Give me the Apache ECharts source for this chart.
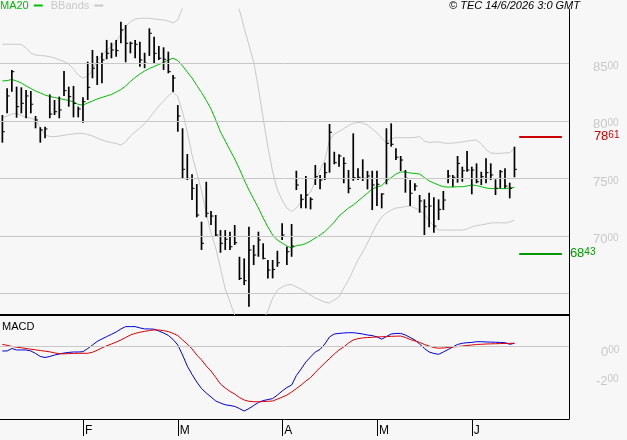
<!DOCTYPE html>
<html>
<head>
<meta charset="utf-8">
<script src="https://cdn.jsdelivr.net/npm/echarts@6/dist/echarts.min.js"></script>
<style>
  html, body { margin: 0; padding: 0; background: #f7f7f7; }
  #chart { width: 627px; height: 440px; }
</style>
</head>
<body>
<div id="chart"></div>
<script>
// Daily bars (high / low / close)
const highs = [
  8050, 8283, 8442, 8297, 8291, 8268, 8259, 8042, 7944, 7949,
  8230, 8181, 8210, 8433, 8297, 8303, 8123, 8204, 8514, 8616,
  8564, 8592, 8703, 8679, 8703, 8862, 8833, 8688, 8703, 8688,
  8592, 8804, 8731, 8650, 8639, 8601, 8398, 8137, 7935, 7711,
  7535, 7450, 7123, 7470, 7216, 7181, 7050, 7050, 7036, 7094,
  6818, 6804, 7079, 6920, 7036, 6935, 6790, 6790, 6870, 7109,
  6905, 7103, 7566, 7361, 7520, 7335, 7616, 7529, 7636, 7972,
  7731, 7709, 7683, 7572, 7891, 7587, 7665, 7564, 7566, 7566,
  7370, 7935, 7978, 7761, 7694, 7572, 7485, 7457, 7355, 7317,
  7375, 7335, 7317, 7390, 7572, 7529, 7694, 7601, 7737, 7601,
  7630, 7557, 7674, 7630, 7491, 7572, 7587, 7462, 7775
];
const lows = [
  7810, 8065, 8253, 8027, 8065, 8022, 8065, 7935, 7810, 7848,
  8022, 8050, 8022, 8216, 8123, 8030, 8030, 7984, 8181, 8370,
  8311, 8326, 8535, 8544, 8557, 8674, 8509, 8587, 8544, 8470,
  8457, 8564, 8500, 8529, 8442, 8413, 8250, 7905, 7500, 7485,
  7311, 7161, 6877, 7161, 7094, 6998, 6853, 6877, 6877, 6920,
  6616, 6572, 6384, 6746, 6818, 6796, 6630, 6630, 6731, 6964,
  6746, 6818, 7398, 7239, 7239, 7230, 7442, 7404, 7485, 7549,
  7622, 7601, 7457, 7370, 7479, 7485, 7477, 7404, 7224, 7259,
  7239, 7448, 7775, 7659, 7564, 7375, 7259, 7392, 7201, 7007,
  7074, 7027, 7137, 7224, 7457, 7427, 7462, 7470, 7557, 7361,
  7457, 7442, 7457, 7485, 7355, 7413, 7413, 7326, 7509
];
const closes = [
  7905, 8216, 8427, 8123, 8152, 8216, 8144, 8007, 7920, 7929,
  8059, 8079, 8094, 8262, 8210, 8152, 8103, 8166, 8291, 8457,
  8500, 8529, 8587, 8616, 8610, 8790, 8674, 8674, 8665, 8529,
  8500, 8761, 8587, 8544, 8535, 8427, 8372, 8042, 7578, 7500,
  7413, 7181, 6935, 7196, 7172, 7007, 6935, 6970, 6905, 6940,
  6630, 6610, 6877, 6833, 6964, 6804, 6703, 6708, 6766, 7007,
  6862, 6911, 7442, 7317, 7355, 7317, 7514, 7485, 7549, 7900,
  7636, 7694, 7630, 7413, 7505, 7509, 7500, 7520, 7442, 7448,
  7364, 7804, 7796, 7683, 7659, 7500, 7370, 7433, 7303, 7253,
  7259, 7085, 7230, 7311, 7520, 7509, 7630, 7566, 7572, 7572,
  7470, 7514, 7549, 7529, 7413, 7557, 7433, 7413, 7578
];

// Indicators
const ma20 = [
  8346, 8350, 8359, 8346, 8329, 8303, 8281, 8259, 8242, 8224,
  8211, 8203, 8194, 8185, 8177, 8164, 8142, 8137, 8155, 8172,
  8190, 8203, 8216, 8229, 8250, 8272, 8303, 8342, 8377, 8407,
  8433, 8455, 8472, 8490, 8507, 8529, 8544, 8524, 8477, 8424,
  8372, 8307, 8246, 8177, 8103, 8007, 7903, 7824, 7746, 7668,
  7581, 7485, 7398, 7320, 7242, 7155, 7077, 7007, 6963, 6937,
  6911, 6894, 6916, 6920, 6933, 6955, 6981, 7007, 7037, 7077,
  7120, 7172, 7207, 7242, 7268, 7303, 7337, 7372, 7407, 7424,
  7437, 7477, 7507, 7537, 7555, 7555, 7546, 7543, 7537, 7507,
  7477, 7459, 7442, 7427, 7424, 7424, 7427, 7427, 7433, 7442,
  7437, 7427, 7416, 7410, 7413, 7411, 7410, 7416, 7422
];
const bandUpper = [
  8665, 8665, 8665, 8665, 8664, 8633, 8590, 8572, 8568, 8564,
  8557, 8546, 8529, 8516, 8494, 8450, 8398, 8370, 8390, 8442,
  8520, 8572, 8616, 8642, 8685, 8755, 8824, 8859, 8885, 8891,
  8891, 8891, 8885, 8881, 8877, 8868, 8850, 8877, 8981, 9094,
  9181, 9242, 9277, 9294, 9285, 9259, 9207, 9138, 9077, 9024,
  8964, 8807, 8659, 8511, 8285, 8024, 7772, 7555, 7398, 7311,
  7242, 7211, 7242, 7294, 7346, 7381, 7477, 7572, 7659, 7833,
  7885, 7907, 7933, 7959, 7977, 7987, 7981, 7963, 7929, 7894,
  7850, 7807, 7842, 7855, 7853, 7853, 7853, 7855, 7863, 7824,
  7811, 7816, 7816, 7807, 7804, 7807, 7811, 7816, 7824, 7829,
  7833, 7798, 7750, 7720, 7717, 7717, 7720, 7724, 7759
];
const bandLower = [
  8029, 8042, 8059, 8064, 8046, 8033, 8024, 8007, 7937, 7877,
  7864, 7862, 7868, 7874, 7881, 7885, 7891, 7890, 7881, 7868,
  7850, 7833, 7820, 7811, 7803, 7790, 7816, 7868, 7903, 7937,
  7977, 8024, 8077, 8129, 8172, 8216, 8251, 8207, 8077, 7903,
  7703, 7546, 7390, 7198, 7024, 6894, 6720, 6537, 6424, 6311,
  6198, 6137, 6094, 6094, 6155, 6268, 6346, 6459, 6529, 6555,
  6572, 6577, 6555, 6537, 6511, 6485, 6459, 6442, 6424, 6416,
  6442, 6470, 6546, 6616, 6703, 6790, 6859, 6937, 7024, 7103,
  7164, 7198, 7224, 7242, 7246, 7255, 7259, 7242, 7224, 7190,
  7129, 7085, 7050, 7050, 7050, 7050, 7050, 7050, 7059, 7077,
  7090, 7094, 7103, 7111, 7114, 7114, 7111, 7120, 7137
];
const macdLine = [
  -31, -31, -14, -24, -24, -24, -31, -48, -69, -76,
  -69, -59, -52, -45, -41, -38, -38, -36, -14, 10,
  35, 52, 68, 84, 100, 121, 137, 137, 137, 128,
  121, 121, 119, 107, 93, 76, 48, 10, -59, -135,
  -193, -245, -290, -321, -348, -376, -390, -402, -407, -413,
  -428, -445, -428, -407, -386, -373, -366, -359, -335, -307,
  -283, -266, -200, -155, -107, -72, -38, -20, 17, 66,
  86, 90, 93, 95, 95, 91, 86, 79, 75, 66,
  50, 69, 86, 90, 90, 79, 62, 45, 17, -14,
  -38, -48, -54, -38, -21, -3, 14, 22, 26, 28,
  33, 33, 31, 30, 29, 28, 26, 15, 22
];
const signalLine = [
  14, 8, 0, -5, -9, -14, -19, -23, -28, -32,
  -37, -44, -50, -51, -49, -48, -47, -47, -47, -40,
  -26, -10, 5, 17, 30, 45, 62, 79, 90, 98,
  104, 110, 114, 114, 109, 103, 90, 75, 45, 17,
  -17, -59, -93, -135, -169, -214, -259, -286, -310, -328,
  -352, -369, -378, -381, -381, -380, -378, -376, -363, -349,
  -335, -314, -290, -266, -238, -214, -179, -145, -114, -83,
  -52, -24, -3, 24, 45, 54, 59, 62, 63, 66,
  67, 68, 70, 71, 72, 62, 48, 38, 28, 14,
  3, -7, -12, -10, -7, -3, -1, 3, 7, 10,
  14, 15, 17, 18, 19, 20, 21, 22, 22
];

// Axis ticks and levels
const priceTicks = [6500, 7000, 7500, 8000, 8500];
const unlabelledPriceTicks = [6500];
const macdTicks = [0, -200];
const monthStarts = [17, 37, 59, 79, 99];
const monthLabels = ['F', 'M', 'A', 'M', 'J'];
const resistance = 7861;
const support = 6843;
const levelFrom = 109;
const levelTo = 118;
const slotCount = 120;

const categories = Array.from({ length: slotCount }, (_, i) => String(i));
const ohlc = highs.map((h, i) => [i, h, lows[i], closes[i]]);

const FONT = 'Liberation Sans';

// "8500" is drawn as a big "85" and a small "00"
function splitLabel(v) {
  const s = v === 0 ? '000' : String(v);
  return '{a|' + s.slice(0, -2) + '}{b|' + s.slice(-2) + '}';
}
function labelRich(color) {
  return {
    a: { fontSize: 13, color: color, fontFamily: FONT },
    b: { fontSize: 10, color: color, fontFamily: FONT, verticalAlign: 'top' }
  };
}

function isMonthStart(idx) {
  return monthStarts.indexOf(idx) >= 0;
}

function renderBar(params, api) {
  const i = api.value(0);
  const hi = api.coord([i, api.value(1)]);
  const lo = api.coord([i, api.value(2)]);
  const cl = api.coord([i, api.value(3)]);
  return {
    type: 'group',
    children: [
      { type: 'line', shape: { x1: hi[0], y1: hi[1], x2: lo[0], y2: lo[1] },
        style: { stroke: '#000', lineWidth: 1.7 } },
      { type: 'line', shape: { x1: cl[0], y1: cl[1], x2: cl[0] + 2.5, y2: cl[1] },
        style: { stroke: '#000', lineWidth: 1 } }
    ]
  };
}

const chart = echarts.init(document.getElementById('chart'));

chart.setOption({
  backgroundColor: '#f7f7f7',
  animation: false,
  title: [
    {
      text: '© TEC 14/6/2026 3:0 GMT',
      left: 449, top: 0, padding: 0,
      textStyle: { fontSize: 11, fontStyle: 'italic', fontWeight: 'normal', color: '#000', fontFamily: FONT }
    },
    {
      text: 'MACD',
      left: 2, top: 321, padding: 0,
      textStyle: { fontSize: 11, fontWeight: 'normal', color: '#000', fontFamily: FONT }
    }
  ],
  legend: {
    left: 0, top: 0, padding: 0,
    align: 'right',
    icon: 'rect',
    itemWidth: 9, itemHeight: 2, itemGap: 8,
    selectedMode: false,
    textStyle: { fontSize: 11, fontFamily: FONT },
    data: [
      { name: 'MA20', textStyle: { color: '#00c000' } },
      { name: 'BBands', textStyle: { color: '#c8c8c8' } }
    ]
  },
  grid: [
    { left: 0, right: 58, top: 9, height: 305.5, outerBoundsMode: 'none' },
    { left: 0, right: 58, top: 315, bottom: 21, outerBoundsMode: 'none' }
  ],
  xAxis: [
    {
      gridIndex: 0, type: 'category', data: categories, boundaryGap: true,
      axisLine: { onZero: false, lineStyle: { color: '#000', width: 2 } },
      axisTick: { show: false }, axisLabel: { show: false }, splitLine: { show: false }
    },
    {
      gridIndex: 1, type: 'category', data: categories, boundaryGap: true,
      axisLine: { onZero: false, lineStyle: { color: '#000', width: 1 } },
      axisTick: {
        show: true, alignWithLabel: true, length: 17,
        interval: isMonthStart,
        lineStyle: { color: '#000', width: 1 }
      },
      axisLabel: {
        interval: isMonthStart,
        formatter: (v, idx) => monthLabels[monthStarts.indexOf(idx)] || '',
        align: 'left', margin: 6, padding: [0, 0, 0, 2],
        fontSize: 12, color: '#000', fontFamily: FONT
      },
      splitLine: { show: false }
    }
  ],
  yAxis: [
    {
      gridIndex: 0, type: 'value', position: 'right', min: 6316, max: 8972,
      axisLine: { show: true, lineStyle: { color: '#000', width: 1 } },
      axisTick: { show: false }, axisLabel: { show: false }, splitLine: { show: false }
    },
    {
      gridIndex: 1, type: 'value', position: 'right', min: -500, max: 217,
      axisLine: { show: true, lineStyle: { color: '#000', width: 1 } },
      axisTick: { show: false }, axisLabel: { show: false }, splitLine: { show: false }
    }
  ],
  series: [
    {
      name: 'BBands', type: 'line', xAxisIndex: 0, yAxisIndex: 0,
      data: bandUpper, symbol: 'none', color: '#c8c8c8',
      lineStyle: { color: '#c8c8c8', width: 1 }, z: 1,
      markLine: {
        silent: true, symbol: 'none', animation: false,
        lineStyle: { color: '#c8c8c8', width: 1, type: 'solid' },
        label: {
          position: 'end', distance: 24, padding: [8, 0, 0, 0],
          formatter: p => splitLabel(p.value), rich: labelRich('#c8c8c8')
        },
        data: priceTicks.map(v => ({
          yAxis: v,
          label: { show: unlabelledPriceTicks.indexOf(v) < 0 }
        }))
      }
    },
    {
      name: 'BBands', type: 'line', xAxisIndex: 0, yAxisIndex: 0,
      data: bandLower, symbol: 'none', color: '#c8c8c8',
      lineStyle: { color: '#c8c8c8', width: 1 }, z: 1
    },
    {
      name: 'MA20', type: 'line', xAxisIndex: 0, yAxisIndex: 0,
      data: ma20, symbol: 'none', color: '#00c000',
      lineStyle: { color: '#00c000', width: 1 }, z: 2,
      markLine: {
        silent: true, symbol: 'none', animation: false,
        data: [
          [
            { coord: [levelFrom, resistance], lineStyle: { color: '#cc0000', width: 2, type: 'solid' },
              label: { position: 'end', distance: 32, formatter: () => splitLabel(resistance), rich: labelRich('#cc0000') } },
            { coord: [levelTo, resistance] }
          ],
          [
            { coord: [levelFrom, support], lineStyle: { color: '#009900', width: 2, type: 'solid' },
              label: { position: 'end', distance: 8, formatter: () => splitLabel(support), rich: labelRich('#009900') } },
            { coord: [levelTo, support] }
          ]
        ]
      }
    },
    {
      name: 'Bars', type: 'custom', xAxisIndex: 0, yAxisIndex: 0,
      renderItem: renderBar, data: ohlc, encode: { x: 0, y: [1, 2, 3] }, z: 3
    },
    {
      name: 'MACD', type: 'line', xAxisIndex: 1, yAxisIndex: 1,
      data: macdLine, symbol: 'none', color: '#0000dd',
      lineStyle: { color: '#0000dd', width: 1 }, z: 2,
      markLine: {
        silent: true, symbol: 'none', animation: false,
        lineStyle: { color: '#c8c8c8', width: 1, type: 'solid' },
        label: {
          position: 'end', padding: [11, 0, 0, 0],
          formatter: p => splitLabel(p.value), rich: labelRich('#c8c8c8')
        },
        data: [
          { yAxis: macdTicks[0], label: { distance: 32 } },
          { yAxis: macdTicks[1], label: { distance: 27 }, lineStyle: { color: 'rgba(0,0,0,0)' } }
        ]
      }
    },
    {
      name: 'Signal', type: 'line', xAxisIndex: 1, yAxisIndex: 1,
      data: signalLine, symbol: 'none', color: '#dd0000',
      lineStyle: { color: '#dd0000', width: 1 }, z: 3
    }
  ]
});
</script>
</body>
</html>
